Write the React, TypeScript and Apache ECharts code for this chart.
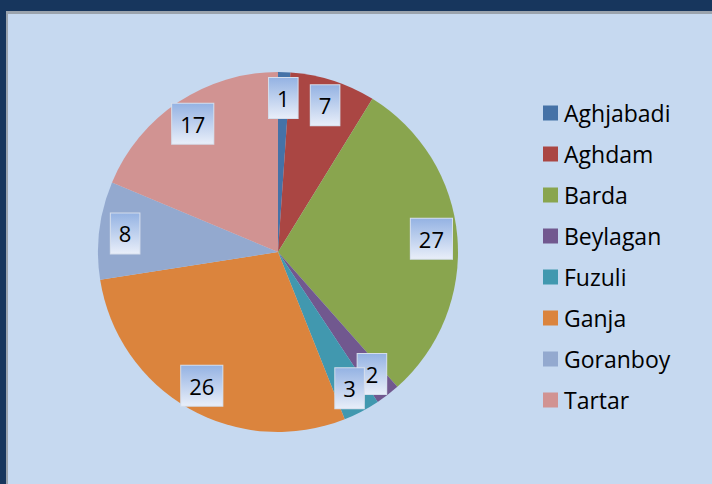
import React, { useEffect, useRef } from "react";
import * as echarts from "echarts";

const categories = ["Aghjabadi", "Aghdam", "Barda", "Beylagan", "Fuzuli", "Ganja", "Goranboy", "Tartar"];
const values = [1, 7, 27, 2, 3, 26, 8, 17];
const colors = ["#4572a7", "#aa4643", "#89a54e", "#71588f", "#4198af", "#db843d", "#93a9cf", "#d19392"];

export default function App() {
  const ref = useRef<HTMLDivElement>(null);
  useEffect(() => {
    if (!ref.current) return;
    const chart = echarts.init(ref.current, null, { renderer: "svg" });
    const data = categories.map((name, i) => ({ name, value: values[i], itemStyle: { color: colors[i] } }));
    const labelData = categories.map((name, i) => ({ name, value: values[i] }));
    const center = [278, 252];
    chart.setOption({
      animation: false,
      backgroundColor: "#17365d",
      graphic: [
        { type: "rect", shape: { x: 6, y: 11, width: 720, height: 490 }, style: { fill: "#9aa3ad" }, z: -10, silent: true },
        { type: "rect", shape: { x: 8, y: 14, width: 720, height: 490 }, style: { fill: "#c6d9f0" }, z: -9, silent: true },
      ],
      legend: {
        orient: "vertical",
        left: 538,
        top: 95,
        itemWidth: 15,
        itemHeight: 15,
        itemGap: 15,
        icon: "rect",
        data: categories,
        textStyle: { fontFamily: "Open Sans", fontSize: 23, lineHeight: 26, color: "#000", padding: [0, 0, 0, 1] },
      },
      series: [
        {
          type: "pie",
          radius: [0, 180],
          center,
          startAngle: 90,
          clockwise: true,
          data,
          label: { show: false },
          labelLine: { show: false },
          itemStyle: { borderWidth: 0 },
          emphasis: { disabled: true },
          silent: true,
        },
        {
          type: "pie",
          radius: [122, 180],
          center,
          startAngle: 90,
          clockwise: true,
          data: labelData,
          itemStyle: { color: "rgba(0,0,0,0)", borderWidth: 0 },
          emphasis: { disabled: true },
          silent: true,
          legendHoverLink: false,
          avoidLabelOverlap: false,
          labelLayout: { hideOverlap: false },
          labelLine: { show: false },
          label: {
            show: true,
            position: "inside",
            formatter: "{c}",
            fontFamily: "Open Sans",
            fontSize: 22,
            lineHeight: 23,
            color: "#000",
            padding: [9, 8, 8, 8],
            backgroundColor: new echarts.graphic.LinearGradient(0, 0, 0, 1, [
              { offset: 0, color: "#95b3e3" },
              { offset: 1, color: "#e8eef9" },
            ]),
            borderColor: "#d5deec",
            borderWidth: 1,
          },
        },
      ],
    });
    return () => chart.dispose();
  }, []);
  return <div ref={ref} style={{ position: "fixed", left: 0, top: 0, width: 712, height: 484 }} />;
}
